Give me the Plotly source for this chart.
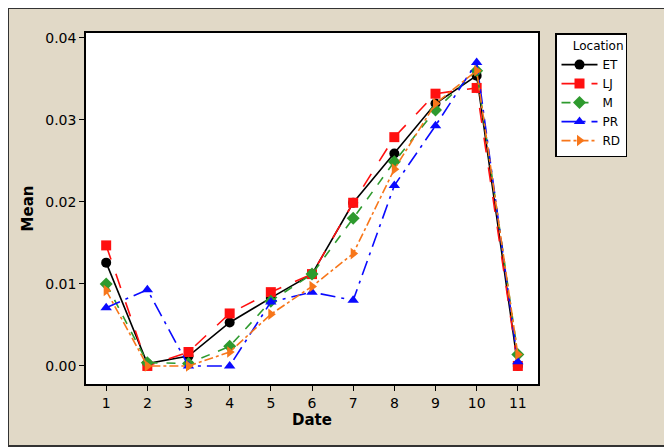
import plotly.graph_objects as go

dates = [1, 2, 3, 4, 5, 6, 7, 8, 9, 10, 11]

# mean per location
et = [0.0126, 0.0003, 0.0012, 0.0053, 0.0083, 0.0112, 0.0199, 0.0259, 0.0320, 0.0354, 0.0000]
lj = [0.0147, 0.0000, 0.0017, 0.0064, 0.0090, 0.0112, 0.0199, 0.0279, 0.0332, 0.0339, 0.0000]
m = [0.0100, 0.0004, 0.0003, 0.0024, 0.0079, 0.0112, 0.0180, 0.0249, 0.0312, 0.0360, 0.0014]
pr = [0.0071, 0.0093, 0.0000, 0.0000, 0.0078, 0.0090, 0.0080, 0.0220, 0.0293, 0.0370, 0.0005]
rd = [0.0092, 0.0000, 0.0000, 0.0017, 0.0063, 0.0097, 0.0137, 0.0240, 0.0320, 0.0360, 0.0014]

yticks = [0.0, 0.01, 0.02, 0.03, 0.04]
ylabels = ["0.00", "0.01", "0.02", "0.03", "0.04"]

series = [
    ("ET", et, "black", "solid", "circle"),
    ("LJ", lj, "#ff1010", "longdash", "square"),
    ("M", m, "#2e9a2e", "dash", "diamond"),
    ("PR", pr, "#0a0aff", "longdashdot", "triangle-up"),
    ("RD", rd, "#f7761a", "dashdot", "triangle-right"),
]

fig = go.Figure()
for name, vals, col, dash, sym in series:
    fig.add_trace(go.Scatter(
        x=dates, y=vals, mode="lines+markers", name=name,
        line=dict(color=col, dash=dash, width=1.6),
        marker=dict(symbol=sym, size=10, color=col),
    ))

# the page puts the figure 8px in from the top-left corner
OFF = 8
W, H = 672 - OFF, 447 - OFF
L, R, T, B = 86 - OFF, 134, 33 - OFF, 63
pw, ph = W - L - R, H - T - B

fig.update_layout(
    width=W, height=H,
    margin=dict(l=L, r=R, t=T, b=B, autoexpand=False),
    paper_bgcolor="#e1d9c7",
    plot_bgcolor="white",
    font=dict(family="DejaVu Sans", size=14, color="black"),
    legend=dict(
        title=dict(text="Location", font=dict(size=12), side="top right"),
        x=(555 - 86) / pw, y=1.0, xanchor="left", yanchor="top",
        bgcolor="white", bordercolor="black", borderwidth=1.5,
        font=dict(size=12), tracegroupgap=0, itemwidth=36,
    ),
    showlegend=True,
)

fig.update_xaxes(
    title=dict(text="<b>Date</b>", font=dict(size=15), standoff=4),
    range=[0.51, 11.49], tickvals=dates, automargin=False,
    showline=True, linecolor="black", linewidth=1.5, mirror=True,
    ticks="outside", ticklen=5, tickcolor="black", showgrid=False, zeroline=False,
)
fig.update_yaxes(
    title=dict(text="<b>Mean</b>", font=dict(size=15), standoff=8),
    range=[-0.0022, 0.0406], tickvals=yticks, ticktext=ylabels, automargin=False,
    showline=True, linecolor="black", linewidth=1.5, mirror=True,
    ticks="outside", ticklen=5, tickcolor="black", showgrid=False, zeroline=False,
)

# dark frame on the right and bottom edges of the picture
fig.add_shape(type="rect", xref="paper", yref="paper",
              x0=-L / pw, x1=(W - L - 1) / pw, y0=(-B + 1) / ph, y1=(H - B) / ph,
              line=dict(color="#333333", width=2), layer="below")

fig.write_html("out.html")
